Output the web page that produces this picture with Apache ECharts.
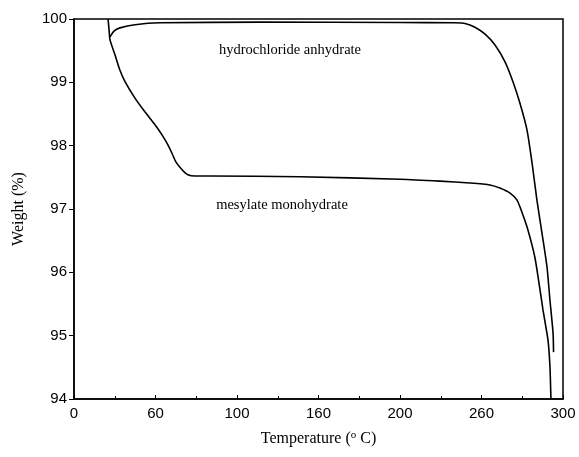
<!DOCTYPE html>
<html>
<head>
<meta charset="utf-8">
<script src="https://cdn.jsdelivr.net/npm/echarts@6/dist/echarts.min.js"></script>
<style>
  html, body { margin: 0; padding: 0; background: #fff; }
  #chart { width: 579px; height: 457px; }
</style>
</head>
<body>
<div id="chart"></div>
<script>
// TGA traces: temperature (°C) and weight (%)
const hclTemp   = [22.1, 24.5, 28.2, 37.4, 52.8, 114.1, 200.0, 233.7, 239.9, 246.0, 252.2, 258.3, 264.5, 269.3, 273.6, 277.9, 281.0, 284.0, 287.1, 290.2, 292.0, 293.9, 294.2];
const hclWeight = [99.72, 99.81, 99.86, 99.91, 99.94, 99.95, 99.945, 99.94, 99.93, 99.87, 99.76, 99.59, 99.32, 99.01, 98.67, 98.25, 97.73, 97.14, 96.62, 96.08, 95.56, 95.04, 94.74];

const mesTemp   = [20.9, 21.5, 22.1, 25.2, 28.2, 31.3, 37.4, 43.6, 49.7, 54.0, 57.7, 60.1, 62.6, 66.3, 69.9, 74.2, 83.4, 138.7, 200.0, 224.5, 243.0, 255.2, 261.3, 267.5, 271.8, 274.8, 277.9, 281.0, 282.8, 284.7, 287.7, 290.8, 292.0, 292.6];
const mesWeight = [100.0, 99.83, 99.67, 99.43, 99.19, 99.01, 98.75, 98.53, 98.33, 98.17, 98.01, 97.88, 97.74, 97.62, 97.54, 97.52, 97.52, 97.51, 97.47, 97.44, 97.41, 97.38, 97.33, 97.25, 97.14, 96.95, 96.72, 96.43, 96.23, 95.93, 95.41, 94.93, 94.51, 94.0];

// Tick captions printed along the axes
const xTickLabels = ['0', '60', '100', '160', '200', '260', '300'];
const yTickLabels = ['94', '95', '96', '97', '98', '99', '100'];

// Curve captions and where they sit (data coordinates)
const captions = ['hydrochloride anhydrate', 'mesylate monohydrate'];
const captionPos = [[132.5, 99.51], [127.6, 97.06]];

const zip = (a, b) => a.map((v, i) => [v, b[i]]);

const chart = echarts.init(document.getElementById('chart'), null, { renderer: 'canvas' });

const tickFont = { fontFamily: 'Liberation Sans, Arial, sans-serif', fontSize: 15, color: '#000' };
const serif = 'Liberation Serif, Times New Roman, serif';

const trace = (name, temps, weights, pos) => ({
  name,
  type: 'line',
  data: zip(temps, weights),
  showSymbol: false,
  smooth: 0.2,
  lineStyle: { color: '#000', width: 1.6 },
  markPoint: {
    symbol: 'circle', symbolSize: 0,
    label: { show: true, formatter: name, fontFamily: serif, fontSize: 14.5, color: '#000' },
    data: [{ coord: pos }]
  }
});

chart.setOption({
  animation: false,
  backgroundColor: '#fff',
  grid: {
    left: 74, right: 16, top: 19, bottom: 58,
    show: true, borderColor: '#000', borderWidth: 1.5, backgroundColor: 'transparent'
  },
  xAxis: {
    type: 'value', min: 0, max: 300, interval: 50,
    axisLine: { lineStyle: { color: '#000', width: 1.5 } },
    axisTick: { show: true, inside: true, length: 4, lineStyle: { color: '#000' } },
    minorTick: { show: true, splitNumber: 2, length: 3, lineStyle: { color: '#000' } },
    splitLine: { show: false },
    axisLabel: Object.assign({
      margin: 7,
      formatter: v => xTickLabels[Math.round(v / 50)]
    }, tickFont),
    name: '{a|Temperature (}{sup|o}{a| C)}',
    nameLocation: 'middle',
    nameGap: 31,
    nameTextStyle: {
      rich: {
        a: { fontFamily: serif, fontSize: 16, color: '#000' },
        sup: { fontFamily: serif, fontSize: 11, color: '#000', verticalAlign: 'top', padding: [0, 0, 6, 0] }
      }
    }
  },
  yAxis: {
    type: 'value', min: 94, max: 100, interval: 1,
    axisLine: { show: true, lineStyle: { color: '#000', width: 1.5 } },
    axisTick: { show: true, inside: false, length: 5, lineStyle: { color: '#000' } },
    splitLine: { show: false },
    axisLabel: Object.assign({
      margin: 7,
      formatter: v => yTickLabels[Math.round(v - 94)]
    }, tickFont),
    name: 'Weight (%)',
    nameLocation: 'middle',
    nameGap: 47,
    nameTextStyle: { fontFamily: serif, fontSize: 16, color: '#000' }
  },
  series: [
    trace(captions[0], hclTemp, hclWeight, captionPos[0]),
    trace(captions[1], mesTemp, mesWeight, captionPos[1])
  ]
});
</script>
</body>
</html>
